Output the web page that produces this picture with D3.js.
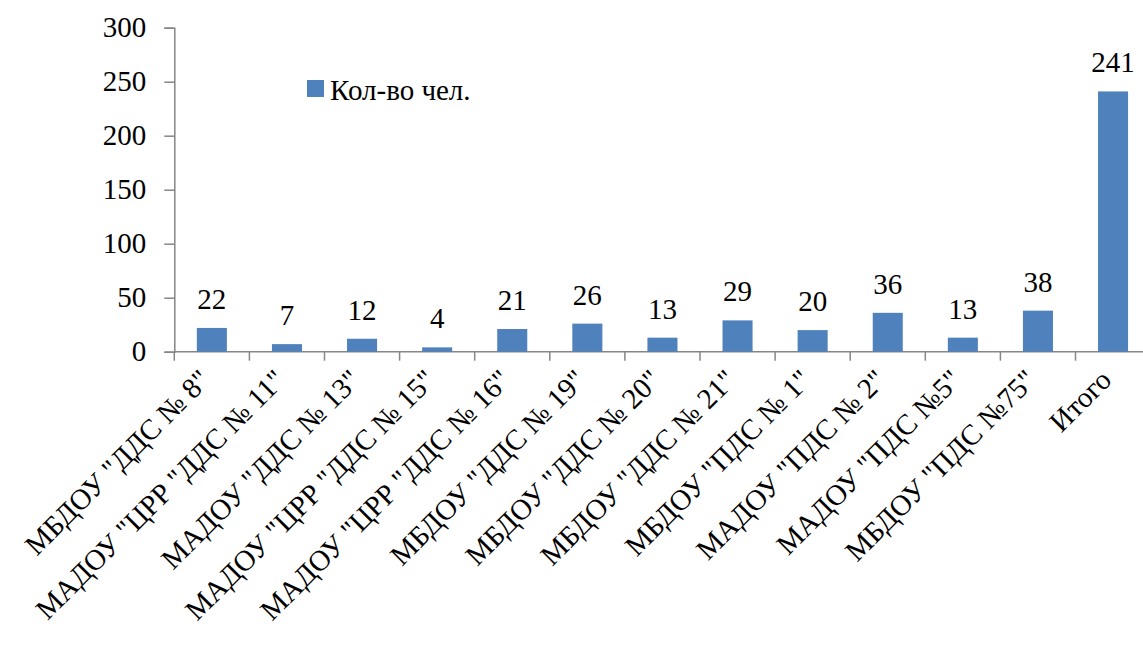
<!DOCTYPE html>
<html>
<head>
<meta charset="utf-8">
<script src="https://cdn.jsdelivr.net/npm/d3@7"></script>
<style>
  body { margin: 0; background: #fff; }
  svg { display: block; }
  .lbl { font: 29px "Liberation Serif", "Times New Roman", serif; fill: #000; }
</style>
</head>
<body>
<svg id="plot" width="1143" height="653"></svg>
<script>
// Number of people per preschool institution
const categories = [
  'МБДОУ "ДДС № 8"',
  'МАДОУ "ЦРР "ДДС № 11"',
  'МАДОУ "ДДС № 13"',
  'МАДОУ "ЦРР "ДДС № 15"',
  'МАДОУ "ЦРР "ДДС № 16"',
  'МБДОУ "ДДС № 19"',
  'МБДОУ "ДДС № 20"',
  'МБДОУ "ДДС № 21"',
  'МБДОУ "ПДС № 1"',
  'МАДОУ "ПДС № 2"',
  'МАДОУ "ПДС №5"',
  'МБДОУ "ПДС №75"',
  'Итого'
];
const values = [22, 7, 12, 4, 21, 26, 13, 29, 20, 36, 13, 38, 241];
const yTicks = [0, 50, 100, 150, 200, 250, 300];
const seriesName = "Кол-во чел.";

function draw() {
  const svg = d3.select("#plot");
  const left = 174.3, bandW = 75.1;
  const y0 = 351.7, yTop = 27.7;
  const axisColor = "#868686";
  const barColor = "#4F81BD";

  const x = d3.scaleBand()
    .domain(categories)
    .range([left, left + bandW * categories.length])
    .paddingInner(0).paddingOuter(0);

  const y = d3.scaleLinear().domain([0, 300]).range([y0, yTop]);

  // Y axis
  const yAxis = d3.axisLeft(y).tickValues(yTicks).tickSize(10).tickPadding(18);
  const gy = svg.append("g").attr("transform", `translate(${left},0)`).call(yAxis);
  gy.attr("font-family", null).attr("font-size", null);
  gy.select(".domain").attr("stroke", axisColor).attr("stroke-width", 1.5);
  gy.selectAll(".tick line").attr("stroke", axisColor).attr("stroke-width", 1.5);
  gy.selectAll(".tick text").attr("class", "lbl").attr("fill", "#000");

  // X axis line and tick marks at band boundaries
  const boundaries = categories.map((c) => x(c))
    .concat([x(categories[categories.length - 1]) + x.bandwidth()]);
  svg.append("line")
    .attr("x1", left).attr("x2", boundaries[boundaries.length - 1])
    .attr("y1", y0).attr("y2", y0)
    .attr("stroke", axisColor).attr("stroke-width", 1.5);
  svg.selectAll(".xtick")
    .data(boundaries)
    .enter().append("line")
    .attr("class", "xtick")
    .attr("x1", (d) => d).attr("x2", (d) => d)
    .attr("y1", y0).attr("y2", y0 + 9)
    .attr("stroke", axisColor).attr("stroke-width", 1.5);

  // Bars
  const barW = x.bandwidth() * 0.4;
  svg.selectAll(".bar")
    .data(values)
    .enter().append("rect")
    .attr("class", "bar")
    .attr("x", (d, i) => x(categories[i]) + (x.bandwidth() - barW) / 2)
    .attr("y", (d) => y(d))
    .attr("width", barW)
    .attr("height", (d) => y0 - y(d))
    .attr("fill", barColor);

  // Value labels above bars
  svg.selectAll(".vlabel")
    .data(values)
    .enter().append("text")
    .attr("class", "lbl")
    .attr("x", (d, i) => x(categories[i]) + x.bandwidth() / 2)
    .attr("y", (d) => y(d) - 19)
    .attr("text-anchor", "middle")
    .text((d) => d);

  // Rotated category labels
  svg.selectAll(".xlabel")
    .data(categories)
    .enter().append("text")
    .attr("class", "lbl")
    .attr("text-anchor", "end")
    .attr("transform", (d) => {
      const cx = x(d) + x.bandwidth() / 2;
      return `translate(${cx},${y0 + 30}) rotate(-45)`;
    })
    .text((d) => d);

  // Legend
  const legend = svg.append("g").attr("transform", "translate(307,80)");
  legend.append("rect").attr("width", 17).attr("height", 17).attr("fill", barColor);
  legend.append("text").attr("class", "lbl").attr("x", 23).attr("y", 20).text(seriesName);
}

if (document.fonts && document.fonts.load) {
  document.fonts.load('29px "Liberation Serif"').then(draw, draw);
} else {
  draw();
}
</script>
</body>
</html>
